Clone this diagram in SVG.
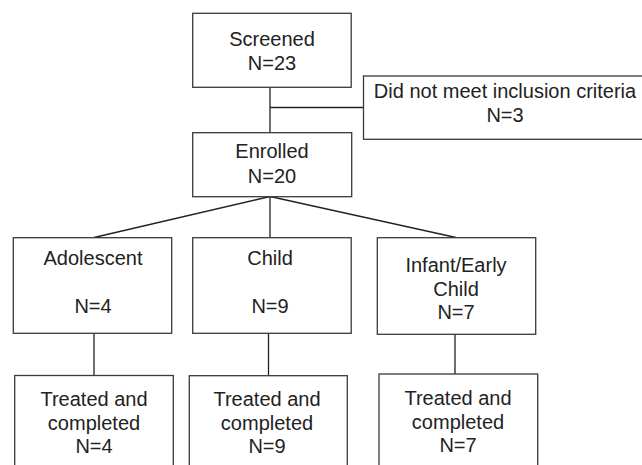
<svg xmlns="http://www.w3.org/2000/svg" width="642" height="465" viewBox="0 0 642 465">
<style>
.box{fill:#fff;stroke:#3a3a3a;stroke-width:1.3}
.ln{fill:none;stroke:#222;stroke-width:1.3}
text{font-family:"Liberation Sans",Arial,sans-serif;font-size:20px;fill:#222;text-anchor:middle}
</style>
<rect width="642" height="465" fill="#fff"/>
<g id="connectors">
<line class="ln" x1="270" y1="87.5" x2="270" y2="132.5"/>
<line class="ln" x1="270" y1="107.5" x2="363.5" y2="107.5"/>
<line class="ln" x1="270" y1="196.5" x2="94" y2="237.5"/>
<line class="ln" x1="270" y1="196.5" x2="270" y2="237.5"/>
<line class="ln" x1="270" y1="196.5" x2="456" y2="237.5"/>
<line class="ln" x1="94" y1="333.5" x2="94" y2="375.5"/>
<line class="ln" x1="268.5" y1="333.5" x2="268.5" y2="375.5"/>
<line class="ln" x1="455" y1="334.5" x2="455" y2="374"/>
</g>
<g id="screened">
<rect class="box" x="192.7" y="13.3" width="158.5" height="74"/>
<text x="272" y="45.7">Screened</text>
<text x="272" y="70">N=23</text>
</g>
<g id="excluded">
<rect class="box" x="363.5" y="76" width="290" height="63.3"/>
<text x="505" y="97.5">Did not meet inclusion criteria</text>
<text x="505" y="121.7">N=3</text>
</g>
<g id="enrolled">
<rect class="box" x="192.7" y="132.7" width="159" height="64"/>
<text x="272" y="158.3">Enrolled</text>
<text x="272" y="183.3">N=20</text>
</g>
<g id="adolescent">
<rect class="box" x="13.3" y="237.7" width="158.4" height="95.6"/>
<text x="93" y="265">Adolescent</text>
<text x="93" y="313.3">N=4</text>
</g>
<g id="child">
<rect class="box" x="192.7" y="237.7" width="158.5" height="95.6"/>
<text x="270" y="265">Child</text>
<text x="270" y="313.3">N=9</text>
</g>
<g id="infant">
<rect class="box" x="377.3" y="237.7" width="158.4" height="96.6"/>
<text x="456" y="271.7">Infant/Early</text>
<text x="456" y="295.7">Child</text>
<text x="456" y="319.3">N=7</text>
</g>
<g id="treated-adolescent">
<rect class="box" x="14.7" y="375.5" width="158.6" height="100"/>
<text x="94" y="406">Treated and</text>
<text x="94" y="430">completed</text>
<text x="94" y="453.3">N=4</text>
</g>
<g id="treated-child">
<rect class="box" x="189.3" y="375.7" width="158" height="100"/>
<text x="267" y="406">Treated and</text>
<text x="267" y="430">completed</text>
<text x="267" y="453.3">N=9</text>
</g>
<g id="treated-infant">
<rect class="box" x="379" y="374" width="158.7" height="100"/>
<text x="458" y="405">Treated and</text>
<text x="458" y="429">completed</text>
<text x="458" y="452.3">N=7</text>
</g>
</svg>
